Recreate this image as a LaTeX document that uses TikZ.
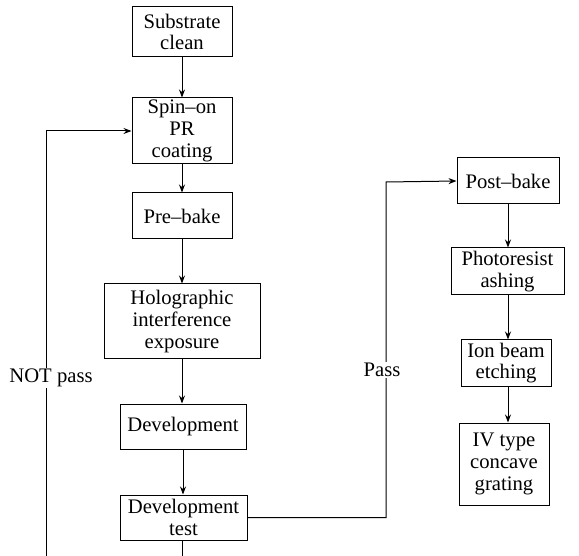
\documentclass[tikz,border=0pt]{standalone}
\usepackage{fontspec}
\setmainfont{Liberation Serif}
\usetikzlibrary{arrows.meta}
\begin{document}
\begin{tikzpicture}[x=0.75pt,y=-0.75pt,
  font=\fontsize{15.5}{16.3}\selectfont,
  box/.style={draw,line width=0.75pt,align=center,inner sep=0pt},
  arr/.style={line width=0.75pt,-{Stealth[length=6pt,width=4.5pt]}},
  ln/.style={line width=0.75pt},
  lab/.style={fill=white,inner sep=1pt}]
\useasboundingbox (0,0) rectangle (579,556);
\clip (0,0) rectangle (579,556);
\node[box,minimum width=75pt,minimum height=37.5pt] (sc) at (182,32) {Substrate\\clean};
\node[box,minimum width=75pt,minimum height=49.5pt] (spin) at (182,131) {Spin--on\\PR\\coating};
\node[box,minimum width=75pt,minimum height=34.5pt] (pre) at (182,216) {Pre--bake};
\node[box,minimum width=117pt,minimum height=56.25pt] (holo) at (182,321.5) {Holographic\\interference\\exposure};
\node[box,minimum width=94.5pt,minimum height=33.75pt] (dev) at (183,426.5) {Development};
\node[box,minimum width=95.25pt,minimum height=33.75pt] (dtest) at (183.5,517.5) {Development\\test};
\node[box,minimum width=76.5pt,minimum height=34.5pt] (post) at (508,181) {Post--bake};
\node[box,minimum width=84.75pt,minimum height=35.25pt] (ash) at (507.5,271.5) {Photoresist\\ashing};
\node[box,minimum width=67.5pt,minimum height=34.5pt] (ion) at (506,363) {Ion beam\\etching};
\node[box,minimum width=67.5pt,minimum height=61.5pt] (iv) at (504,464) {IV type\\concave\\grating};
\draw[arr] (sc.south) -- (spin.north);
\draw[arr] (spin.south) -- (pre.north);
\draw[arr] (pre.south) -- (holo.north);
\draw[arr] (holo.south) -- (holo.south |- dev.north);
\draw[arr] (dev.south) -- (dev.south |- dtest.north);
\draw[arr] (post.south) -- (post.south |- ash.north);
\draw[arr] (post.south |- ash.south) -- (post.south |- ion.north);
\draw[arr] (post.south |- ion.south) -- (post.south |- iv.north);
\coordinate (b1) at (182,600);
\coordinate (b2) at (46,600);
\coordinate (p1) at (386,517.5);
\coordinate (p2) at (386,182);
\draw[arr] (dtest.south -| b1) -- (b1) -- (b2) -- (b2 |- spin.west) -- (spin.west);
\draw[arr] (dtest.east) -- (p1) -- (p2) -- (post.west);
\node[lab] (np) at (51,378) {NOT pass};
\node[lab] (ps) at (382,370) {Pass};
\end{tikzpicture}
\end{document}
